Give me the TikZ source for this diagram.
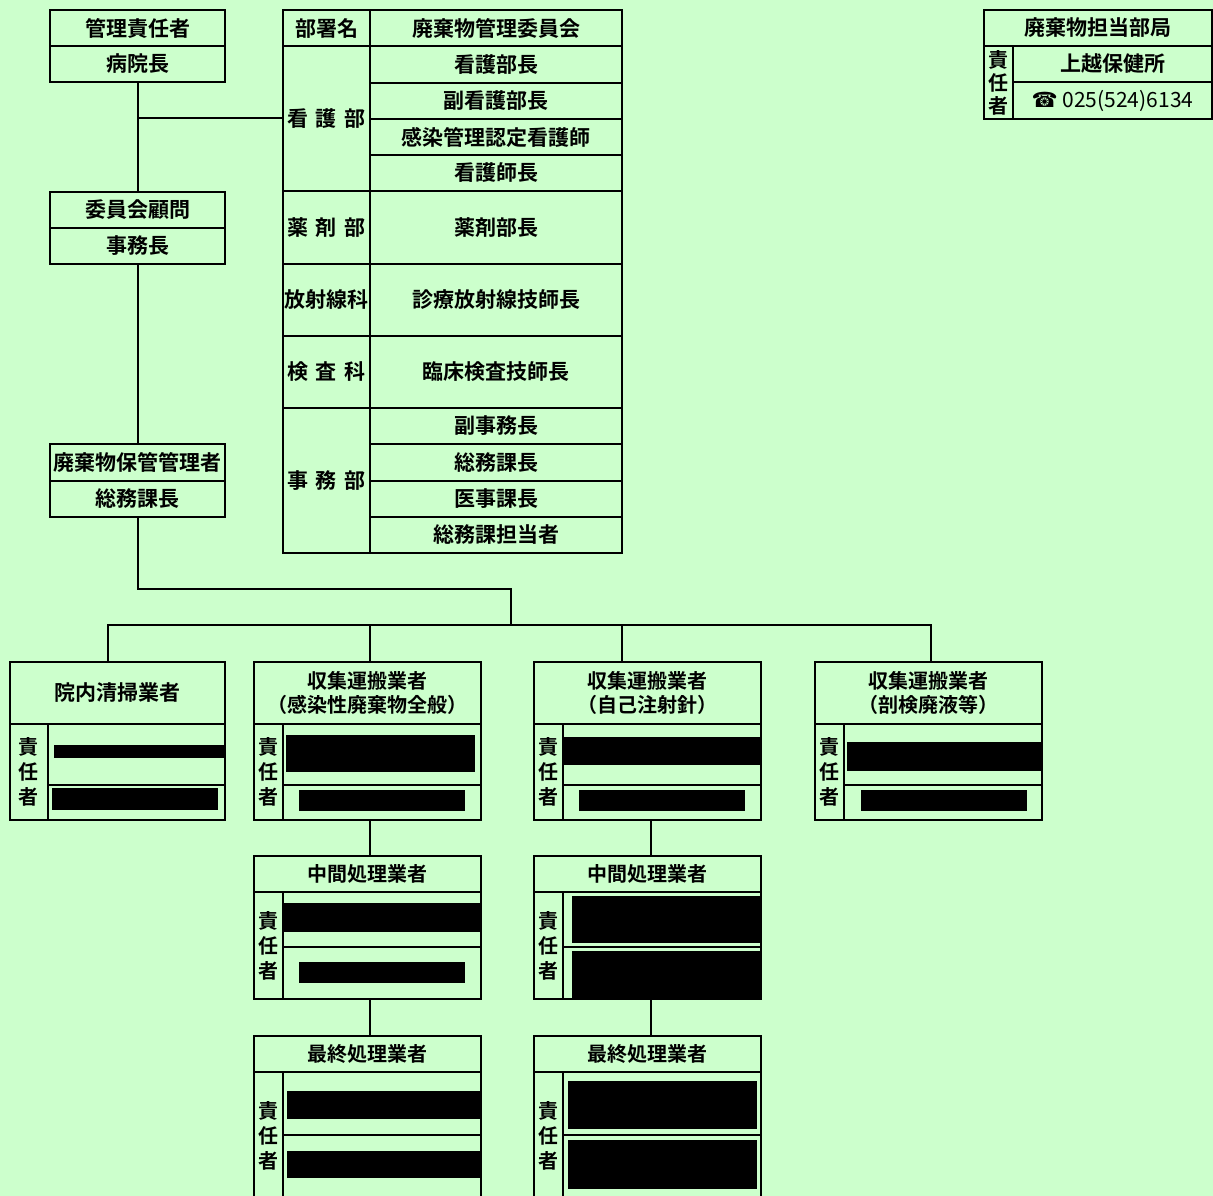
\documentclass[tikz,border=0pt]{standalone}
\usepackage{fontspec}
\setmainfont{Noto Sans CJK JP}[BoldFont={Noto Sans CJK JP Bold}]
\newfontfamily\symfont{DejaVu Sans}
\definecolor{bggreen}{RGB}{204,255,204}

\begin{document}
\begin{tikzpicture}[x=1pt,y=-1pt,line cap=butt,line join=miter,
  cell/.style={draw,line width=2pt,inner sep=0pt,align=center,
    font=\bfseries\fontsize{21}{25}\selectfont},
  wh/.style 2 args={minimum width={(#1)*1pt},minimum height={(#2)*1pt}},
  spaced/.style={execute at begin node={\spaceskip=8pt\relax}},
  vert/.style={font=\bfseries\fontsize{20}{25}\selectfont}]
\clip (0,0) rectangle (1213,1196);
\fill[bggreen] (0,0) rectangle (1213,1196);

%left column
\node[cell,wh={175}{36}] (kanri1) at (137.5,28) {管理責任者};
\node[cell,wh={175}{36}] (kanri2) at (137.5,64) {病院長};
\node[cell,wh={175}{36}] (komon1) at (137.5,210) {委員会顧問};
\node[cell,wh={175}{36}] (komon2) at (137.5,246) {事務長};
\node[cell,wh={175}{37}] (hokan1) at (137.5,462.5) {廃棄物保管管理者};
\node[cell,wh={175}{36}] (hokan2) at (137.5,499) {総務課長};

%committee table
\node[cell,wh={87}{36}] (busho) at (326.5,28) {部署名};
\node[cell,wh={252}{36}] (iinkai) at (496,28) {廃棄物管理委員会};
\node[cell,spaced,wh={87}{145}] (kangobu) at (326.5,118.5) {看 護 部};
\node[cell,spaced,wh={87}{73}] (yakuzai) at (326.5,227.5) {薬 剤 部};
\node[cell,wh={87}{72}] (hoshasen) at (326.5,300) {放射線科};
\node[cell,spaced,wh={87}{72}] (kensa) at (326.5,372) {検 査 科};
\node[cell,spaced,wh={87}{145}] (jimubu) at (326.5,480.5) {事 務 部};
\foreach \y/\n/\t in {64.5/m1/看護部長, 101/m2/副看護部長, 137/m3/感染管理認定看護師,
  173/m4/看護師長, 426/m5/副事務長, 462.5/m6/総務課長, 499/m7/医事課長, 535/m8/総務課担当者}
{
\node[cell,wh={252}{36.3}] (\n) at (496,\y) {\t};
}
\node[cell,wh={252}{73}] (m9) at (496,227.5) {薬剤部長};
\node[cell,wh={252}{72}] (m10) at (496,300) {診療放射線技師長};
\node[cell,wh={252}{72}] (m11) at (496,372) {臨床検査技師長};

%contact box
\node[cell,wh={228}{36}] (tanto) at (1098,28) {廃棄物担当部局};
\node[cell,wh={29}{73},vert,font=\bfseries\fontsize{20}{23}\selectfont] (tantoc) at (998.5,82.5) {責\\任\\者};
\node[cell,wh={199}{36}] (hoken) at (1112.5,64) {上越保健所};
\node[cell,wh={199}{37},font=\fontsize{21}{24}\selectfont] (tel) at (1112.5,100.5) {{\symfont ☎} 025(524)6134};

%contractor boxes
\node[cell,wh={215}{62}] (seisou-h) at (117.5,693) {院内清掃業者};
\node[cell,wh={38}{96},vert] (seisou-c) at (29,772) {責\\任\\者};
\node[cell,wh={177}{61}] (seisou-a) at (136.5,754.5) {};
\node[cell,wh={177}{35}] (seisou-b) at (136.5,802.5) {};
\foreach \x/\top/\hh/\ra/\rb/\n/\t in {
  254/662/62/61/35/u1/{収集運搬業者\\（感染性廃棄物全般）},
  534/662/62/61/35/u2/{収集運搬業者\\（自己注射針）},
  815/662/62/61/35/u3/{収集運搬業者\\（剖検廃液等）},
  254/856/36/55/52/c1/{中間処理業者},
  534/856/36/55/52/c2/{中間処理業者},
  254/1036/36/63/65/s1/{最終処理業者},
  534/1036/36/63/65/s2/{最終処理業者}}
{
\node[cell,wh={227}{\hh},font=\bfseries\fontsize{20}{24}\selectfont] (\n-h) at ({\x+113.5},{\top+\hh/2}) {\t};
\node[cell,wh={29}{\ra+\rb},vert] (\n-c) at ({\x+14.5},{\top+\hh+(\ra+\rb)/2}) {責\\任\\者};
\node[cell,wh={198}{\ra}] (\n-a) at ({\x+128},{\top+\hh+\ra/2}) {};
\node[cell,wh={198}{\rb}] (\n-b) at ({\x+128},{\top+\hh+\ra+\rb/2}) {};
}

%blacked out names
\fill (54,745) rectangle (225,758);
\fill (52,788) rectangle (218,810);
\fill (286,735) rectangle (475,772);
\fill (299,790) rectangle (465,811);
\fill (563,737) rectangle (760,765);
\fill (579,790) rectangle (745,811);
\fill (847,742) rectangle (1042,771);
\fill (861,790) rectangle (1027,811);
\fill (283,903) rectangle (481,932);
\fill (299,962) rectangle (465,983);
\fill (572,896) rectangle (762,943);
\fill (572,951) rectangle (762,1000);
\fill (287,1091) rectangle (482,1119);
\fill (287,1151) rectangle (482,1178);
\fill (568,1081) rectangle (757,1129);
\fill (568,1140) rectangle (757,1189);

%lines
\begin{scope}[line width=2pt]
\draw (kanri2.south) -- (komon1.north);
\draw (kangobu.west) -- (kangobu.west -| kanri2.south);
\draw (komon2.south) -- (hokan1.north);
\coordinate (turn) at (511,589);
\coordinate (bus) at (511,625);
\draw (hokan2.south) |- (turn) -- (bus);
\coordinate (d0) at (108,625);
\coordinate (d1) at (370,625);
\coordinate (d2) at (622,625);
\coordinate (d3) at (931,625);
\draw (d0 |- seisou-h.north) -- (d0) -- (d3) -- (d3 |- u3-h.north);
\draw (d1) -- (d1 |- u1-h.north);
\draw (d2) -- (d2 |- u2-h.north);
\coordinate (v1) at (370,0);
\coordinate (v2) at (651,0);
\draw (v1 |- u1-b.south) -- (v1 |- c1-h.north);
\draw (v1 |- c1-b.south) -- (v1 |- s1-h.north);
\draw (v2 |- u2-b.south) -- (v2 |- c2-h.north);
\draw (v2 |- c2-b.south) -- (v2 |- s2-h.north);
\end{scope}
\end{tikzpicture}
\end{document}
